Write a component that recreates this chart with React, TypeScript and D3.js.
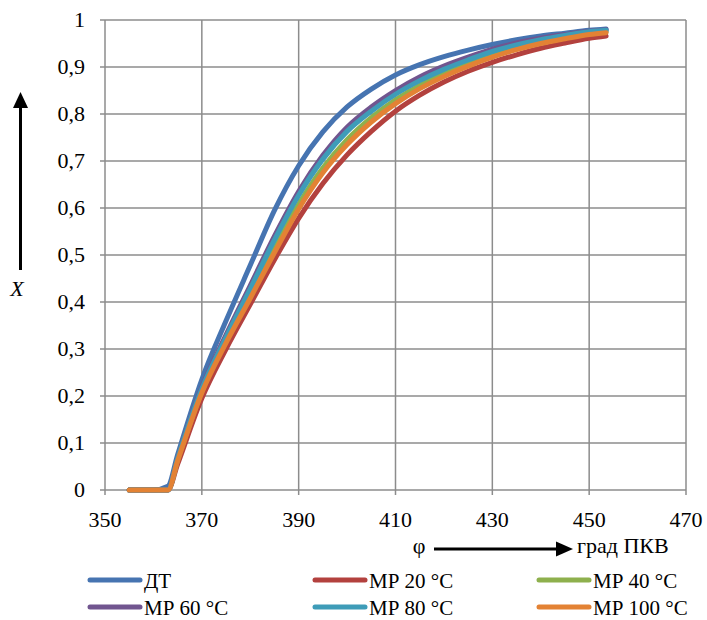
import React from "react";
import * as d3 from "d3";

const phi = [355, 360, 363, 365, 370, 375, 380, 385, 390, 395, 400, 405, 410, 415, 420, 425, 430, 435, 440, 445, 450, 453.5];
const dt = [0, 0, 0.008, 0.075, 0.235, 0.36, 0.478, 0.595, 0.69, 0.762, 0.815, 0.853, 0.883, 0.905, 0.922, 0.936, 0.948, 0.958, 0.966, 0.972, 0.978, 0.981];
const mr20 = [0, 0, 0, 0.055, 0.195, 0.3, 0.395, 0.49, 0.578, 0.652, 0.713, 0.763, 0.806, 0.84, 0.868, 0.891, 0.91, 0.926, 0.94, 0.951, 0.961, 0.966];
const mr40 = [0, 0, 0, 0.064, 0.21, 0.318, 0.416, 0.515, 0.608, 0.685, 0.745, 0.792, 0.83, 0.861, 0.886, 0.907, 0.926, 0.941, 0.953, 0.963, 0.971, 0.975];
const mr60 = [0, 0, 0, 0.068, 0.218, 0.33, 0.435, 0.54, 0.635, 0.712, 0.772, 0.815, 0.85, 0.879, 0.902, 0.921, 0.938, 0.951, 0.961, 0.969, 0.976, 0.979];
const mr80 = [0, 0, 0, 0.067, 0.215, 0.325, 0.428, 0.532, 0.627, 0.704, 0.763, 0.806, 0.842, 0.871, 0.895, 0.915, 0.933, 0.947, 0.958, 0.967, 0.975, 0.978];
const mr100 = [0, 0, 0, 0.062, 0.207, 0.313, 0.408, 0.505, 0.598, 0.675, 0.735, 0.783, 0.822, 0.854, 0.88, 0.902, 0.921, 0.937, 0.95, 0.96, 0.969, 0.973];

const seriesNames = ["ДТ", "МР 20 °С", "МР 40 °С", "МР 60 °С", "МР 80 °С", "МР 100 °С"];
const seriesValues = [dt, mr20, mr40, mr60, mr80, mr100];
const seriesColors = ["#4674B1", "#B3413E", "#8EB04D", "#71558F", "#3E9CB8", "#E38234"];

const xTicks = [350, 370, 390, 410, 430, 450, 470];
const yTicks = [0, 0.1, 0.2, 0.3, 0.4, 0.5, 0.6, 0.7, 0.8, 0.9, 1];
const yTickLabels = ["0", "0,1", "0,2", "0,3", "0,4", "0,5", "0,6", "0,7", "0,8", "0,9", "1"];

const FONT = '"Liberation Serif", "Times New Roman", Times, "DejaVu Serif", serif';

export default function App() {
  const W = 707, H = 620;
  const x = d3.scaleLinear().domain([350, 470]).range([105, 686]);
  const y = d3.scaleLinear().domain([0, 1]).range([490, 20]);
  const line = d3
    .line<[number, number]>()
    .x((d) => x(d[0]))
    .y((d) => y(d[1]))
    .curve(d3.curveMonotoneX);

  const grid = "#8C8C8C";
  const fs = 22;
  const ts: React.CSSProperties = { fontFamily: FONT };

  const legendCols = [90, 315, 539];
  const legendRows = [580, 607];

  return (
    <svg width={W} height={H} style={{ position: "absolute", left: 0, top: 0, background: "#fff", fontFamily: FONT }}>
      <rect width={W} height={H} fill="#fff" />
      {xTicks.map((t) => (
        <line key={"gx" + t} x1={x(t)} x2={x(t)} y1={y(1)} y2={y(0) + 5} stroke={grid} strokeWidth={1.5} />
      ))}
      {yTicks.map((t) => (
        <line key={"gy" + t} x1={x(350) - 5} x2={x(470)} y1={y(t)} y2={y(t)} stroke={grid} strokeWidth={1.5} />
      ))}
      {yTicks.map((t, i) => (
        <text key={"ly" + t} x={85} y={y(t) + 7} textAnchor="end" fontSize={fs} fill="#000" style={ts}>
          {yTickLabels[i]}
        </text>
      ))}
      {xTicks.map((t) => (
        <text key={"lx" + t} x={x(t)} y={527} textAnchor="middle" fontSize={fs} fill="#000" style={ts}>
          {t}
        </text>
      ))}
      {seriesValues.map((vals, i) => (
        <path
          key={"s" + i}
          d={line(phi.map((p, j) => [p, vals[j]] as [number, number])) || ""}
          fill="none"
          stroke={seriesColors[i]}
          strokeWidth={5}
          strokeLinecap="round"
          strokeLinejoin="round"
        />
      ))}
      <line x1={20.5} x2={20.5} y1={270} y2={104} stroke="#000" strokeWidth={3} />
      <path d="M20.5,92 L13,108 L28,108 Z" fill="#000" />
      <text x={17} y={296} textAnchor="middle" fontSize={fs} fontStyle="italic" fill="#000" style={ts}>
        X
      </text>
      <text x={419} y={553} textAnchor="middle" fontSize={fs} fill="#000" style={ts}>
        φ
      </text>
      <line x1={434} x2={558} y1={549} y2={549} stroke="#000" strokeWidth={3} />
      <path d="M573,549 L556,541.5 L556,556.5 Z" fill="#000" />
      <text x={577} y={553} fontSize={fs} fill="#000" style={ts}>
        град ПКВ
      </text>
      {seriesNames.map((n, i) => {
        const cx = legendCols[i % 3];
        const cy = legendRows[Math.floor(i / 3)];
        return (
          <g key={"lg" + i}>
            <line x1={cx} x2={cx + 50} y1={cy} y2={cy} stroke={seriesColors[i]} strokeWidth={5} strokeLinecap="round" />
            <text x={cx + 54} y={cy + 8} fontSize={fs - 1} fill="#000" style={ts}>
              {n}
            </text>
          </g>
        );
      })}
    </svg>
  );
}
